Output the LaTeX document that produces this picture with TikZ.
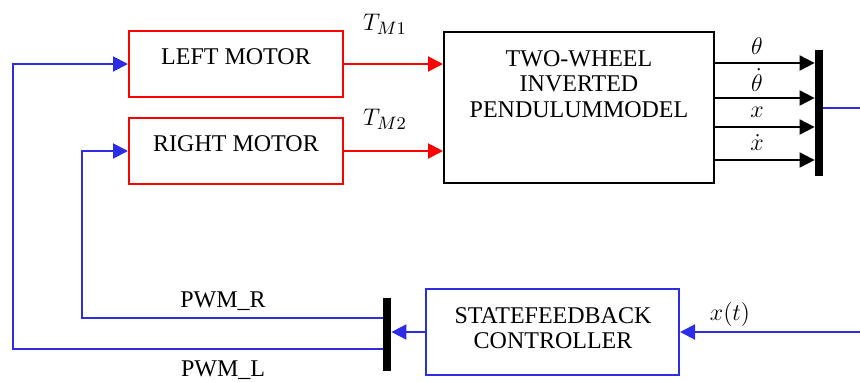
\documentclass[tikz,border=0pt]{standalone}
\usepackage{fontspec}
\setmainfont{Liberation Serif}
\usetikzlibrary{arrows.meta}
\definecolor{fbblue}{RGB}{45,45,230}
\tikzset{
  blk/.style={draw, line width=1pt, inner sep=0pt},
  txt/.style={font=\fontsize{12}{14}\selectfont, align=center, inner sep=0pt},
  muxbar/.style={fill=black, draw=none, minimum width=4pt, inner sep=0pt},
  arr/.style={line width=1pt, -{Triangle[length=7.5pt,width=7.5pt]}},
  lbl/.style={font=\fontsize{13}{15}\selectfont, inner sep=0pt},
  plbl/.style={font=\fontsize{12}{14}\selectfont, inner sep=0pt},
}
\begin{document}
\begin{tikzpicture}[x=0.5pt,y=-0.5pt]
\useasboundingbox (0,0) rectangle (860,381);
% boxes
\node[blk, draw=red, minimum width=107pt, minimum height=33pt] (lm) at (236,64) {};
\node[txt] (lmt) at (236,57) {LEFT MOTOR};
\node[blk, draw=red, minimum width=107pt, minimum height=33pt] (rm) at (236,151) {};
\node[txt] (rmt) at (236,144) {RIGHT MOTOR};
\node[blk, draw=black, minimum width=135pt, minimum height=75.5pt] (model) at (579,107.5) {};
\node[txt] (modelt) at (579,84) {TWO-WHEEL\\[-1.2pt]INVERTED\\[-1.2pt]PENDULUMMODEL};
\node[blk, draw=fbblue, minimum width=126.5pt, minimum height=43pt] (ctrl) at (552.5,332) {};
\node[txt] (ctrlt) at (553,328.5) {STATEFEEDBACK\\[-1.5pt]CONTROLLER};
\node[muxbar, minimum height=63pt] (mux1) at (819,113) {};
\node[muxbar, minimum height=36.5pt] (mux2) at (387,334.5) {};
\coordinate (outR) at (860,108);
\coordinate (inR) at (860,332);
% motor to model
\draw[arr, red] (lm.east) -- (lm.east -| model.west);
\draw[arr, red] (rm.east) -- (rm.east -| model.west);
\node[lbl] (tm1) at (385,24) {$T_{M1}$};
\node[lbl] (tm2) at (385,119) {$T_{M2}$};
% model outputs
\foreach \yy/\nm in {63/a,98/b,127/c,160/d}{
  \coordinate (o\nm) at (714,\yy);
  \draw[arr, black] (o\nm -| model.east) -- (o\nm -| mux1.west);
}
\node[lbl] (lth) at (757,46) {$\theta$};
\node[lbl] (lthd) at (757,80) {$\dot\theta$};
\node[lbl] (lx) at (757,112) {$x$};
\node[lbl] (lxd) at (757,143) {$\dot x$};
\draw[line width=1pt, fbblue] (outR -| mux1.east) -- (outR);
% controller
\draw[arr, fbblue] (inR) -- (ctrl.east);
\node[lbl] (xt) at (730,314) {$x(t)$};
\draw[arr, fbblue] (ctrl.west) -- (ctrl.west -| mux2.east);
% PWM lines
\coordinate (pr) at (82,318);
\coordinate (pl) at (13,349);
\draw[arr, fbblue] (pr -| mux2.west) -- (pr) |- (rm.west);
\draw[arr, fbblue] (pl -| mux2.west) -- (pl) |- (lm.west);
\node[plbl] (pwmr) at (223,301) {PWM\_R};
\node[plbl] (pwml) at (223,370) {PWM\_L};
\end{tikzpicture}
\end{document}
